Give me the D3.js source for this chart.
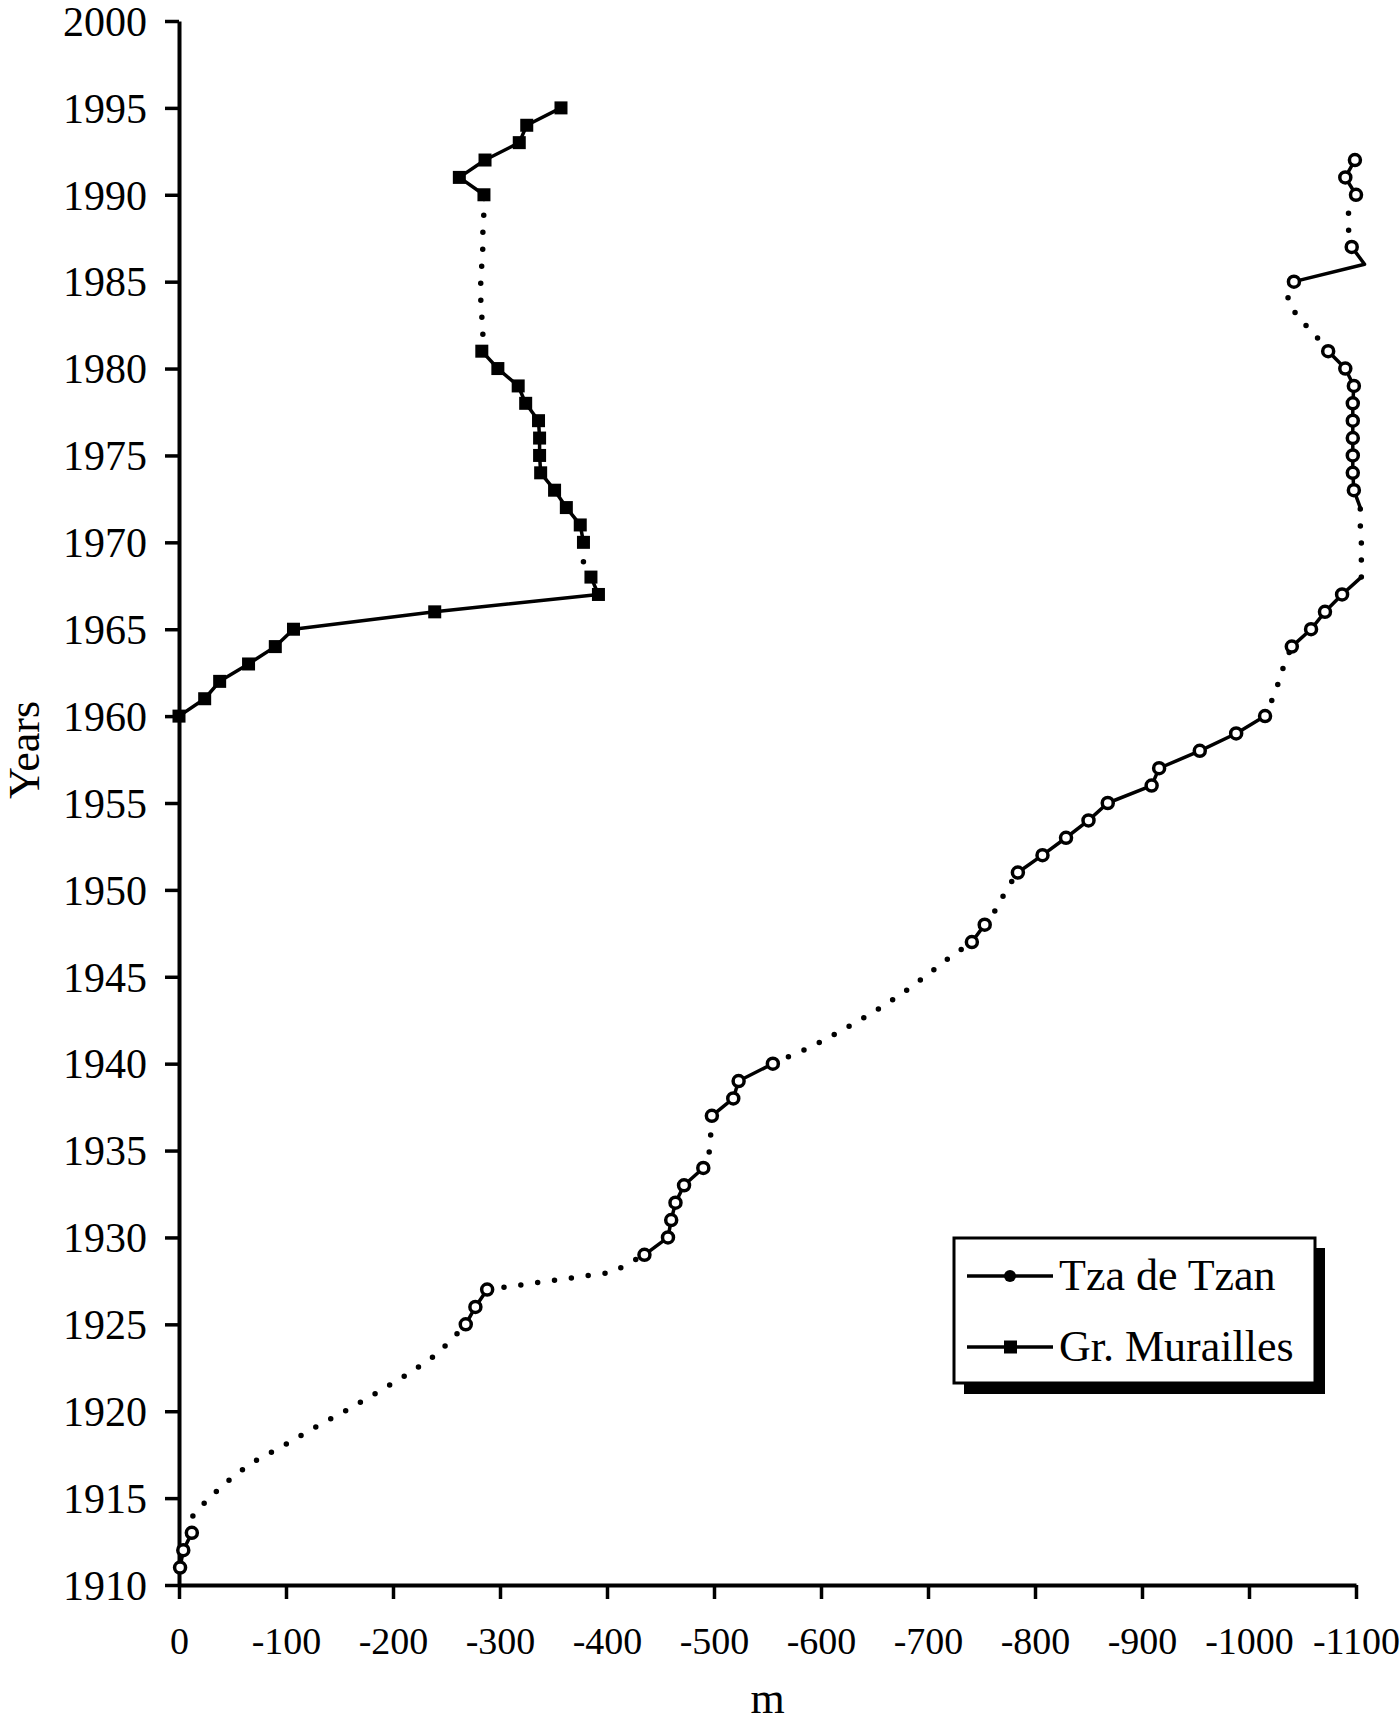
<!DOCTYPE html>
<html>
<head>
<meta charset="utf-8">
<script src="https://cdn.jsdelivr.net/npm/d3@7"></script>
<style>
  body { margin: 0; background: #fff; }
  svg text { font-family: "Liberation Serif", "Times New Roman", serif; fill: #000; }
</style>
</head>
<body>
<div id="chart"></div>
<script>
const width = 1400;
const height = 1726;

/* ----------------------- data ----------------------- */
// kind: 1 = measured (marker), 2 = measured (no marker), 0 = gap year (dotted)
const tzaYears = [1911, 1912, 1913, 1914, 1915, 1916, 1917, 1918, 1919, 1920,
  1921, 1922, 1923, 1924, 1925, 1926, 1927, 1928, 1929, 1930,
  1931, 1932, 1933, 1934, 1935, 1936, 1937, 1938, 1939, 1940,
  1941, 1942, 1943, 1944, 1945, 1946, 1947, 1948, 1949, 1950,
  1951, 1952, 1953, 1954, 1955, 1956, 1957, 1958, 1959, 1960,
  1961, 1962, 1963, 1964, 1965, 1966, 1967, 1968, 1969, 1970,
  1971, 1972, 1973, 1974, 1975, 1976, 1977, 1978, 1979, 1980,
  1981, 1982, 1983, 1984, 1985, 1986, 1987, 1988, 1989, 1990,
  1991, 1992];
const tzaValues = [-1, -4, -12, -13, -28, -46, -67, -97, -125, -155,
  -183, -210, -235, -253, -268, -277, -288, -405, -435, -457,
  -460, -464, -472, -490, -496, -497, -498, -518, -523, -555,
  -592, -622, -650, -675, -697, -718, -741, -753, -765, -773,
  -784, -807, -829, -850, -868, -909, -916, -954, -988, -1015,
  -1022, -1028, -1033, -1040, -1058, -1071, -1087, -1105, -1105, -1105,
  -1104, -1104, -1098, -1097, -1097, -1097, -1097, -1097, -1098, -1090,
  -1074, -1061, -1045, -1036, -1042, -1108, -1096, -1093, -1093, -1100,
  -1090, -1099];
const tzaKinds = [1, 1, 1, 0, 0, 0, 0, 0, 0, 0,
  0, 0, 0, 0, 1, 1, 1, 0, 1, 1,
  1, 1, 1, 1, 0, 0, 1, 1, 1, 1,
  0, 0, 0, 0, 0, 0, 1, 1, 0, 0,
  1, 1, 1, 1, 1, 1, 1, 1, 1, 1,
  0, 0, 0, 1, 1, 1, 1, 2, 0, 0,
  0, 2, 1, 1, 1, 1, 1, 1, 1, 1,
  1, 0, 0, 0, 1, 2, 1, 0, 0, 1,
  1, 1];

const murYears = [1960, 1961, 1962, 1963, 1964, 1965, 1966, 1967, 1968, 1969,
  1970, 1971, 1972, 1973, 1974, 1975, 1976, 1977, 1978, 1979,
  1980, 1981, 1982, 1983, 1984, 1985, 1986, 1987, 1988, 1989,
  1990, 1991, 1992, 1993, 1994, 1995];
const murValues = [0, -24, -38, -65, -90, -107, -239, -392, -385, -377,
  -378, -375, -362, -351, -338, -337, -337, -336, -324, -317,
  -298, -283, -284, -283, -282, -282, -283, -284, -284, -285,
  -285, -262, -286, -318, -325, -357];
const murKinds = [1, 1, 1, 1, 1, 1, 1, 1, 1, 0,
  1, 1, 1, 1, 1, 1, 1, 1, 1, 1,
  1, 1, 0, 0, 0, 0, 0, 0, 0, 0,
  1, 1, 1, 1, 1, 1];

const seriesNames = ["Tza de Tzan", "Gr. Murailles"];
const yTicks = [1910, 1915, 1920, 1925, 1930, 1935, 1940, 1945, 1950, 1955,
  1960, 1965, 1970, 1975, 1980, 1985, 1990, 1995, 2000];
const xTicks = [0, -100, -200, -300, -400, -500, -600, -700, -800, -900, -1000, -1100];

/* ----------------------- scales ----------------------- */
const svg = d3.select("#chart")
  .append("svg")
    .attr("width", width)
    .attr("height", height)
    .style("background", "#fff");

const x = d3.scaleLinear().domain([0, -1100]).range([179, 1356]);
const y = d3.scaleLinear().domain([1910, 2000]).range([1585, 21]);

/* ----------------------- axes ----------------------- */
const xAxis = svg.append("g")
  .attr("transform", `translate(0,${y(1910)})`)
  .call(d3.axisBottom(x).tickValues(xTicks).tickSize(14).tickSizeOuter(0)
    .tickPadding(28).tickFormat(d => String(d)));

const yAxis = svg.append("g")
  .attr("transform", `translate(${x(0)},0)`)
  .call(d3.axisLeft(y).tickValues(yTicks).tickSize(14).tickSizeOuter(0)
    .tickPadding(18).tickFormat(d => String(d)));

[xAxis, yAxis].forEach(g => {
  g.attr("font-family", null).attr("font-size", null);
  g.select(".domain").attr("stroke", "#000").attr("stroke-width", 4);
  g.selectAll(".tick line").attr("stroke", "#000").attr("stroke-width", 3.5);
});
xAxis.selectAll(".tick text").style("font-size", "38px");
yAxis.selectAll(".tick text").style("font-size", "42px").attr("dy", "0.34em");

svg.append("text")
  .attr("transform", `translate(39,750) rotate(-90)`)
  .attr("text-anchor", "middle")
  .style("font-size", "44px")
  .text("Years");

svg.append("text")
  .attr("x", (x(0) + x(-1100)) / 2)
  .attr("y", 1713)
  .attr("text-anchor", "middle")
  .style("font-size", "44px")
  .text("m");

/* ----------------------- lines ----------------------- */
// split a series into runs of solid (measured to measured) and dotted pieces
function makeRuns(years, values, kinds) {
  const out = [];
  let cur = null;
  for (let i = 0; i < years.length - 1; i++) {
    const dotted = !(kinds[i] > 0 && kinds[i + 1] > 0);
    if (!cur || cur.dotted !== dotted) {
      cur = { dotted: dotted, pts: [[years[i], values[i]]] };
      out.push(cur);
    }
    cur.pts.push([years[i + 1], values[i + 1]]);
  }
  return out;
}

const line = d3.line().x(d => x(d[1])).y(d => y(d[0]));

function drawSeries(years, values, kinds, cls) {
  const g = svg.append("g").attr("class", cls);
  g.selectAll("path")
    .data(makeRuns(years, values, kinds))
    .join("path")
      .attr("d", d => line(d.pts))
      .attr("fill", "none")
      .attr("stroke", "#000")
      .attr("stroke-linejoin", "round")
      .attr("stroke-linecap", "round")
      .attr("stroke-width", d => d.dotted ? 5.5 : 3.5)
      .attr("stroke-dasharray", d => d.dotted ? "0 17" : null);
  const pts = years.map((yr, i) => ({ year: yr, value: values[i], kind: kinds[i] }))
    .filter(d => d.kind === 1);
  return { g: g, pts: pts };
}

const tza = drawSeries(tzaYears, tzaValues, tzaKinds, "tza");
tza.g.selectAll("circle")
  .data(tza.pts)
  .join("circle")
    .attr("cx", d => x(d.value))
    .attr("cy", d => y(d.year))
    .attr("r", 5.5)
    .attr("fill", "#fff")
    .attr("stroke", "#000")
    .attr("stroke-width", 3.5);

const mur = drawSeries(murYears, murValues, murKinds, "mur");
mur.g.selectAll("rect")
  .data(mur.pts)
  .join("rect")
    .attr("x", d => x(d.value) - 6.5)
    .attr("y", d => y(d.year) - 6.5)
    .attr("width", 13)
    .attr("height", 13)
    .attr("fill", "#000");

/* ----------------------- legend ----------------------- */
const legend = svg.append("g").attr("class", "legend");
legend.append("rect")
  .attr("x", 964).attr("y", 1248).attr("width", 361).attr("height", 146)
  .attr("fill", "#000");
legend.append("rect")
  .attr("x", 954).attr("y", 1238).attr("width", 361).attr("height", 145)
  .attr("fill", "#fff").attr("stroke", "#000").attr("stroke-width", 3);

const entry = legend.selectAll(".entry")
  .data(seriesNames)
  .join("g")
    .attr("class", "entry")
    .attr("transform", (d, i) => `translate(0,${1276 + i * 71})`);
entry.append("line")
  .attr("x1", 967).attr("x2", 1053)
  .attr("stroke", "#000").attr("stroke-width", 3.5);
entry.each(function (d, i) {
  const e = d3.select(this);
  if (i === 0) {
    e.append("circle").attr("cx", 1010).attr("r", 6).attr("fill", "#000");
  } else {
    e.append("rect").attr("x", 1004).attr("y", -6.5).attr("width", 13).attr("height", 13).attr("fill", "#000");
  }
});
entry.append("text")
  .attr("x", 1059)
  .attr("y", 14)
  .style("font-size", "44px")
  .text(d => d);
</script>
</body>
</html>
